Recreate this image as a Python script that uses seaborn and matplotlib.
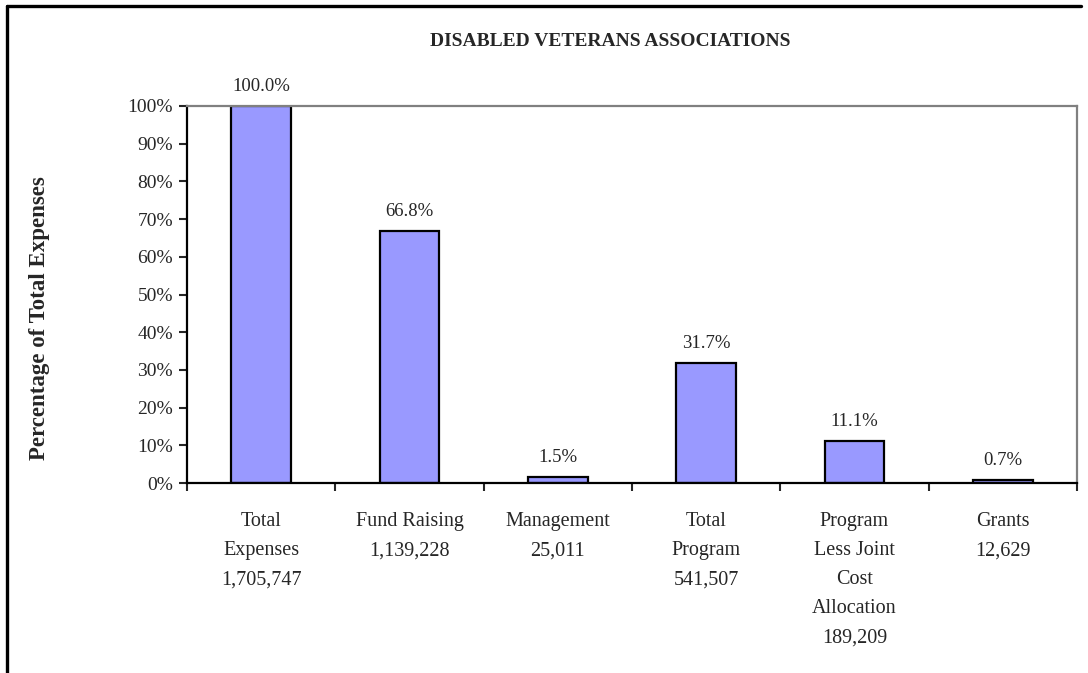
import numpy as np
import pandas as pd
import seaborn as sns
import matplotlib.pyplot as plt
from matplotlib.lines import Line2D
from matplotlib.transforms import Bbox, TransformedBbox

# chart data
categories = ["Total\nExpenses\n1,705,747", "Fund Raising\n1,139,228", "Management\n25,011",
              "Total\nProgram\n541,507", "Program\nLess Joint\nCost\nAllocation\n189,209",
              "Grants\n12,629"]
percent = [100.0, 66.8, 1.5, 31.7, 11.1, 0.7]
y_ticks = list(range(0, 101, 10))
y_labels = ["{}%".format(t) for t in y_ticks]

sns.set_style("white")
plt.rcParams["font.family"] = ["Liberation Serif", "DejaVu Serif"]

df = pd.DataFrame({"category": categories, "percent": percent})

fig = plt.figure(figsize=(10.88, 6.73), dpi=100)
ax = fig.add_axes([187 / 1088, 1 - 483 / 673, 890 / 1088, 377 / 673])

sns.barplot(data=df, x="category", y="percent", color="#9999FF", saturation=1,
            edgecolor="black", linewidth=1.6, width=0.4, ax=ax)

ax.bar_label(ax.containers[0], fmt="%.1f%%", padding=8, fontsize=13.5)

ax.set_ylim(0, 100)
ax.set_xlim(-0.5, len(categories) - 0.5)
ax.set_yticks(y_ticks)
ax.set_yticklabels(y_labels, fontsize=14)
ax.tick_params(axis="y", direction="out", length=6, width=1.5, left=True, pad=4)

# category labels at centers, ticks at the boundaries
ax.set_xticks(range(len(categories)))
ax.set_xticklabels(categories, fontsize=14.5, linespacing=1.72, va="top")
ax.tick_params(axis="x", which="major", length=0, pad=21)
ax.set_xticks(np.arange(-0.5, len(categories), 1.0), minor=True)
ax.tick_params(axis="x", which="minor", direction="out", length=6, width=1.5, bottom=True)

ax.set_xlabel("")
ax.set_ylabel("")

for side in ["left", "bottom"]:
    ax.spines[side].set_color("black")
    ax.spines[side].set_linewidth(1.6)
for side in ["top", "right"]:
    ax.spines[side].set_color("#808080")
    ax.spines[side].set_linewidth(1.6)
    ax.spines[side].set_visible(True)

fig.text(610 / 1088, 1 - 41 / 673, "DISABLED VETERANS ASSOCIATIONS", ha="center", va="center",
         fontsize=14, fontweight="bold")

ylab = fig.text(40 / 1088, 1 - 460 / 673, "Percentage of Total Expenses", rotation=90,
                ha="center", va="bottom", fontsize=16.5, fontweight="bold")
ylab.set_clip_box(TransformedBbox(Bbox([[0, 0], [1, 1 - 145 / 673]]), fig.transFigure))
ylab.set_clip_on(True)

# outer chart frame (left and top edges visible)
fig.add_artist(Line2D([6.5 / 1088, 6.5 / 1088], [0, 1 - 5.5 / 673], color="black", lw=2.4,
                      transform=fig.transFigure))
fig.add_artist(Line2D([6.5 / 1088, 1081 / 1088], [1 - 5.5 / 673, 1 - 5.5 / 673], color="black",
                      lw=2.4, transform=fig.transFigure))

fig.savefig("out.png", dpi=100)
